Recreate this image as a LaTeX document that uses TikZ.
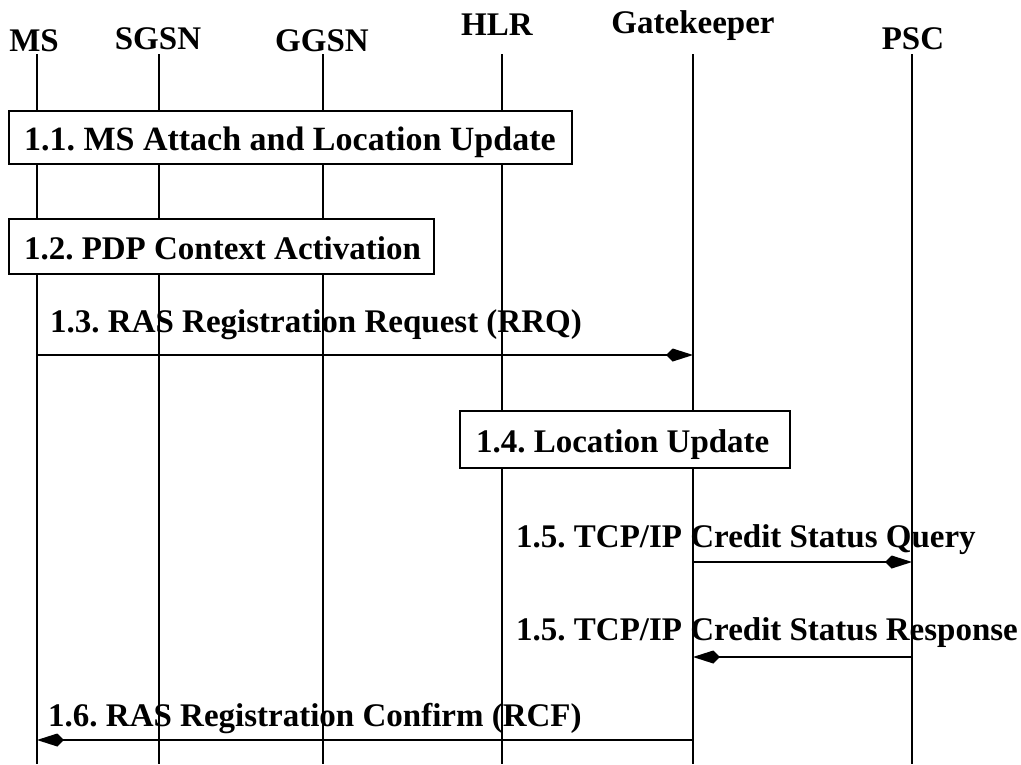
\documentclass[tikz,border=0pt]{standalone}
\usepackage{fontspec}
\setmainfont{Liberation Serif}
\usetikzlibrary{arrows.meta}
\frenchspacing
\begin{document}
\begin{tikzpicture}[x=1pt,y=-1pt,
  every node/.style={font=\fontsize{33}{40}\selectfont\bfseries},
  head/.style={anchor=base, inner sep=0pt},
  life/.style={line width=2pt},
  msgbox/.style={draw, line width=2pt, fill=white, anchor=north west, inner ysep=0pt, text height=26pt, text depth=0pt},
  msglabel/.style={anchor=base west, inner sep=0pt},
  msg/.style={line width=2pt, -{Kite[length=27pt,width=13pt]}}
]
\useasboundingbox (0,0) rectangle (1021,764);
% headers
\node[head] (hms)  at (34,51)  {MS};
\node[head] (hsg)  at (158,49) {SGSN};
\node[head] (hgg)  at (322,51) {GGSN};
\node[head] (hhl)  at (497,35) {HLR};
\node[head] (hgk)  at (693,33) {Gatekeeper};
\node[head] (hps)  at (913,49) {PSC};
% lifelines
\foreach \n/\x in {ms/37, sg/159, gg/323, hl/502, gk/693, ps/912}{
  \coordinate (\n-top) at (\x,54);
  \coordinate (\n-bot) at (\x,764);
  \draw[life] (\n-top) -- (\n-bot);
}
% boxes
\node[msgbox, minimum height=53pt, inner xsep=15pt] (b11) at (8,110) {\makebox[533pt][l]{\fontsize{34}{40}\selectfont 1.1. MS Attach and Location Update}};
\node[msgbox, minimum height=55pt, inner xsep=15pt] (b12) at (8,218) {\makebox[395pt][l]{1.2. PDP Context Activation}};
\node[msgbox, minimum height=57pt, inner xsep=16pt] (b14) at (459,410) {\makebox[298pt][l]{1.4. Location Update}};
% messages
\coordinate (m13a) at (37,355);  \coordinate (m13b) at (693,355);
\draw[msg] (m13a) -- (m13b);
\node[msglabel] (l13) at (50,332) {1.3. RAS Registration Request (RRQ)};
\coordinate (m15a) at (693,562); \coordinate (m15b) at (912,562);
\draw[msg] (m15a) -- (m15b);
\node[msglabel] (l15a) at (516,547) {1.5. TCP/IP Credit Status Query};
\coordinate (m15c) at (912,657); \coordinate (m15d) at (693,657);
\draw[msg] (m15c) -- (m15d);
\node[msglabel] (l15b) at (516,640) {1.5. TCP/IP Credit Status Response};
\coordinate (m16a) at (693,740); \coordinate (m16b) at (37,740);
\draw[msg] (m16a) -- (m16b);
\node[msglabel] (l16) at (48,726) {1.6. RAS Registration Confirm (RCF)};
\end{tikzpicture}
\end{document}
